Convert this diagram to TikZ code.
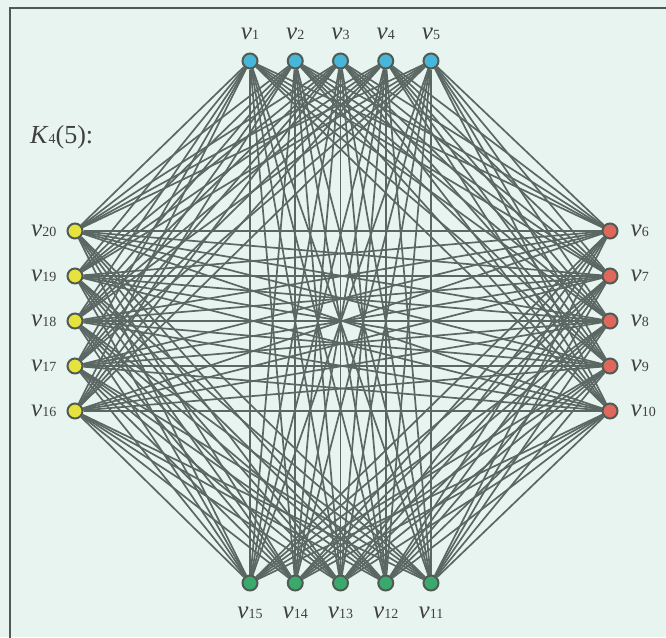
\documentclass[tikz,border=0pt]{standalone}
\usepackage{fontspec}
\setmainfont{Liberation Serif}
\usetikzlibrary{positioning,calc}
\definecolor{bgmint}{HTML}{E8F4EF}
\definecolor{framegray}{HTML}{4F5A55}
\definecolor{edgegray}{HTML}{5B6762}
\definecolor{rimgray}{HTML}{515B56}
\definecolor{topblue}{HTML}{48B6D8}
\definecolor{rightred}{HTML}{E0675C}
\definecolor{bottomgreen}{HTML}{3BA96C}
\definecolor{leftyellow}{HTML}{E6E23E}
\pgfdeclarelayer{bg}
\pgfdeclarelayer{edges}
\pgfsetlayers{bg,edges,main}
\tikzset{
    vert/.style={draw=rimgray,line width=2pt,circle,inner sep=0pt,minimum size=15pt},
    edge/.style={-,draw=edgegray,line width=1.7pt},
    lab/.style={inner sep=0pt,text=black!75,font=\fontsize{25}{25}\selectfont},
}
\newcommand{\vname}[1]{\textit{v}{\fontsize{14}{14}\selectfont #1}}
\begin{document}
\begin{tikzpicture}[x=1pt,y=-1pt]
    \useasboundingbox (0,0) rectangle (666,637);
    \clip (0,0) rectangle (666,637);
    \begin{pgfonlayer}{bg}
        \fill[bgmint] (0,0) rectangle (666,637);
        \draw[framegray,line width=2pt] (10,8) rectangle (690,660);
    \end{pgfonlayer}
    % vertices of the four parts
    \foreach \k in {1,...,5}
        \node[vert,fill=topblue,label={[lab,label distance=13pt]above:\vname{\k}}]
            (v\k) at ({250+(\k-1)*45.25},61) {};
    \foreach \k in {6,...,10}
        \node[vert,fill=rightred,label={[lab,label distance=12pt]right:\vname{\k}}]
            (v\k) at (610,{231+(\k-6)*45}) {};
    \foreach \k in {11,...,15}
        \node[vert,fill=bottomgreen,label={[lab,label distance=15pt]below:\vname{\k}}]
            (v\k) at ({431-(\k-11)*45.25},583) {};
    \foreach \k in {16,...,20}
        \node[vert,fill=leftyellow,label={[lab,label distance=10pt]left:\vname{\k}}]
            (v\k) at (75,{411-(\k-16)*45}) {};
    \node[lab,font=\fontsize{26}{26}\selectfont,anchor=base west] (title) at (30,143)
        {\textit{K}{\fontsize{14}{14}\selectfont 4}(5):};
    % every pair from different parts
    \begin{pgfonlayer}{edges}
        \foreach \i in {1,...,20}
            \foreach \j in {1,...,20}{
                \pgfmathtruncatemacro\gi{(\i-1)/5}
                \pgfmathtruncatemacro\gj{(\j-1)/5}
                \ifnum\gi<\gj \draw[edge] (v\i) -- (v\j); \fi
            }
    \end{pgfonlayer}
\end{tikzpicture}
\end{document}
